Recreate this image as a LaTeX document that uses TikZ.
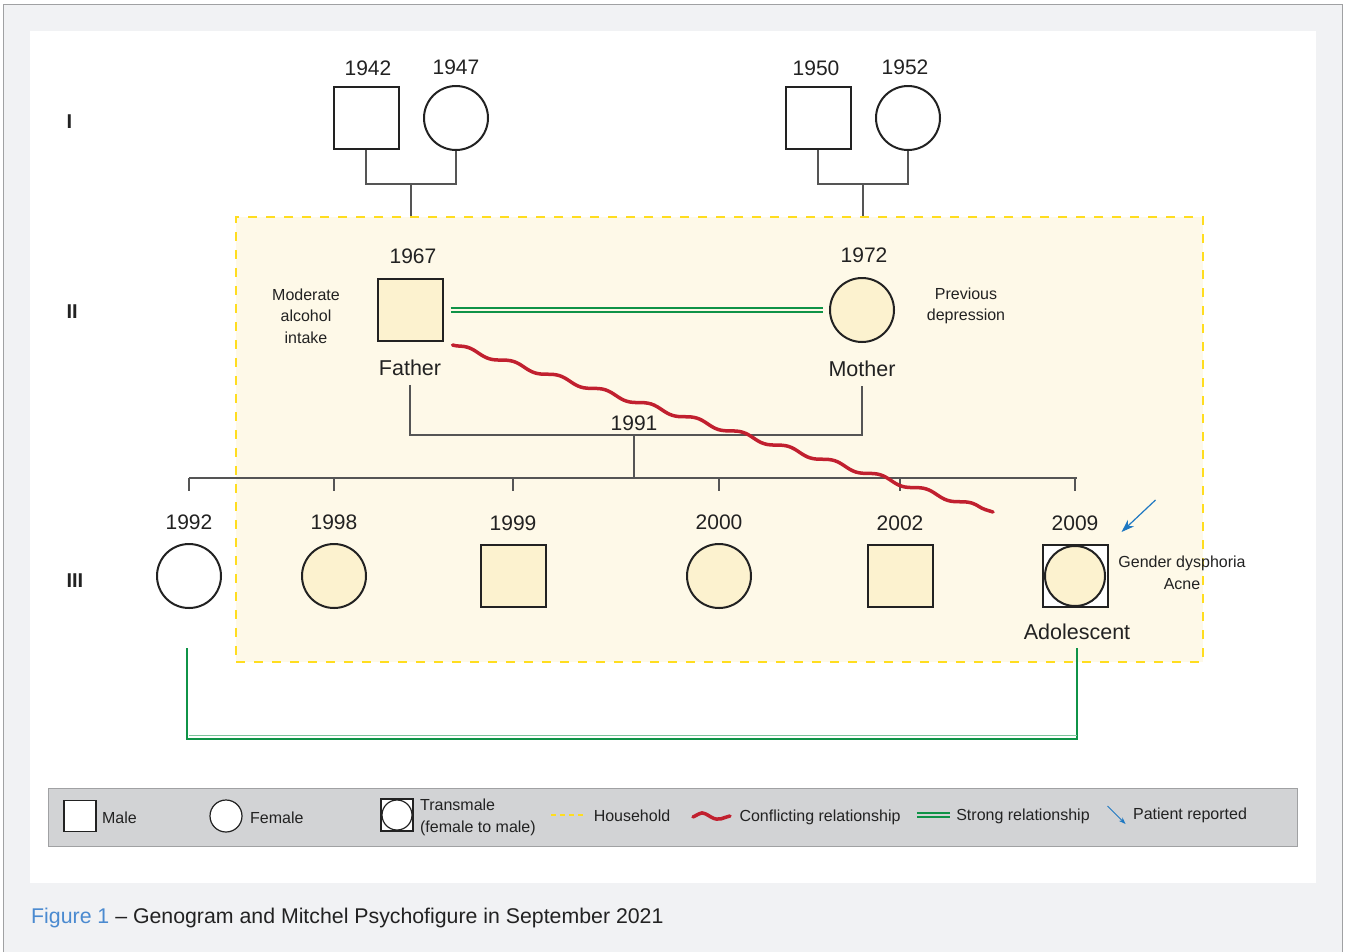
\documentclass[tikz,border=0pt]{standalone}
\usepackage{fontspec}
\setmainfont{Liberation Sans}
\usetikzlibrary{positioning, decorations.pathmorphing, arrows.meta}

\definecolor{panelgray}{HTML}{F1F2F4}
\definecolor{framegray}{HTML}{A0A1A3}
\definecolor{legendgray}{HTML}{D2D3D5}
\definecolor{homefill}{HTML}{FEF9E8}
\definecolor{homeline}{HTML}{FFDD1F}
\definecolor{personfill}{HTML}{FCF2CF}
\definecolor{strongGreen}{HTML}{0F9347}
\definecolor{conflictRed}{HTML}{C1202F}
\definecolor{patientBlue}{HTML}{1E78C2}
\definecolor{captionBlue}{HTML}{4A8AD0}
\definecolor{inkgray}{HTML}{222222}
\definecolor{linegray}{HTML}{555555}

\tikzstyle{male} = [rectangle, minimum width=65pt, minimum height=62pt, inner sep=0pt, draw=inkgray, line width=2pt, fill=white]
\tikzstyle{female} = [circle, minimum size=64pt, inner sep=0pt, draw=inkgray, line width=2pt, fill=white]
\tikzstyle{member} = [fill=personfill]
\tikzstyle{year} = [font=\fontsize{21}{25}\selectfont, text=inkgray, text height=15pt, text depth=0pt]
\tikzstyle{role} = [font=\fontsize{21.5}{26}\selectfont, text=inkgray]
\tikzstyle{note} = [font=\fontsize{16}{21.5}\selectfont, text=inkgray, align=center]
\tikzstyle{generation} = [font=\fontsize{20}{24}\selectfont\bfseries, text=inkgray, anchor=west]
\tikzstyle{keytext} = [font=\fontsize{16}{22}\selectfont, text=inkgray, align=left]
\tikzstyle{household} = [rectangle, draw=homeline, fill=homefill, line width=2.5pt, dash pattern=on 9pt off 9pt]
\tikzstyle{line} = [line width=1.2pt, draw=linegray]
\tikzstyle{strong} = [draw=strongGreen, line width=1.3pt, double=homefill, double distance=2.7pt]
\tikzstyle{bond} = [draw=strongGreen, line width=2.5pt]
\tikzstyle{bondthin} = [draw=strongGreen!55, line width=1pt]
\tikzstyle{conflict} = [draw=conflictRed, line width=3.5pt, line cap=round, decorate, decoration={snake, amplitude=2.3pt, segment length=48pt}]
\tikzstyle{arrow} = [draw=patientBlue, line width=1.2pt, -{Stealth[length=13pt, width=9pt]}]

\begin{document}
\begin{tikzpicture}[x=1pt, y=-1pt]

    \useasboundingbox (0,0) rectangle (1346,951);
    \fill[white] (0,0) rectangle (1346,951);
    \draw[framegray, fill=panelgray, line width=1pt] (3.5,4.5) rectangle (1342.5,990);
    \fill[white] (30,31) rectangle (1316,883);

    \node (home) [household, minimum width=967pt, minimum height=445pt] at (719.5,439.5) {};

    % generations
    \node (genI) [generation] at (63,122) {I};
    \node (genII) [generation] at (63,312) {II};
    \node (genIII) [generation] at (63,581) {III};

    % grandparents
    \node (gpaF) [male] at (366,118) {};
    \node (gmaF) [female] at (456,118) {};
    \node (gpaM) [male] at (818,118) {};
    \node (gmaM) [female] at (908,118) {};
    \node (y1942) [year, above=7pt of gpaF, xshift=2pt] {1942};
    \node (y1947) [year, above=7pt of gmaF] {1947};
    \node (y1950) [year, above=7pt of gpaM, xshift=-2pt] {1950};
    \node (y1952) [year, above=7pt of gmaM, xshift=-3pt] {1952};

    \coordinate (wedF) at (411,184);
    \coordinate (wedM) at (863,184);
    \draw[line] (gpaF.south) |- (wedF) -| (gmaF.south);
    \draw[line] (gpaM.south) |- (wedM) -| (gmaM.south);
    \draw[line] (wedF) -- (wedF |- home.north);
    \draw[line] (wedM) -- (wedM |- home.north);

    % parents
    \node (father) [male, member] at (410,310) {};
    \node (mother) [female, member] at (862,310) {};
    \node (y1967) [year, above=11pt of father, xshift=3pt] {1967};
    \node (y1972) [year, above=11pt of mother, xshift=2pt] {1972};
    \node (lFather) [role, below=14pt of father] {Father};
    \node (lMother) [role, below=14pt of mother] {Mother};
    \node (alcohol) [note] at (306,316) {Moderate\\alcohol\\intake};
    \node (depression) [note] at (966,306) {Previous\\depression};

    \draw[strong] ([xshift=7pt]father.east) -- ([xshift=-6pt]mother.west);

    \coordinate (wed) at (634,435);
    \coordinate (sibs) at (634,478);
    \draw[line] ([yshift=-6pt]lFather.south) |- (wed) -| ([yshift=-6pt]lMother.south);
    \node (y1991) [year, above=1pt of wed] {1991};
    \draw[line] (wed) -- (sibs);

    % children
    \node (c1992) [female] at (189,576) {};
    \node (c1998) [female, member] at (334,576) {};
    \node (c1999) [male, member] at (513,576) {};
    \node (c2000) [female, member] at (719,576) {};
    \node (c2002) [male, member] at (900,576) {};
    \node (c2009) [male] at (1075,576) {};
    \node (c2009in) [female, member, minimum size=60pt] at (c2009) {};

    \draw[line] (c1992 |- sibs) -- ([xshift=2pt]c2009 |- sibs);
    \foreach \kid/\yr in {c1992/1992, c1998/1998, c1999/1999, c2000/2000, c2002/2002, c2009/2009} {
        \draw[line] (\kid |- sibs) -- ++(0,13);
        \node (y\kid) [year, above=10pt of \kid] {\yr};
    }

    \node (lAdol) [role, below=12pt of c2009, xshift=2pt] {Adolescent};
    \node (dysphoria) [note] at (1182,573) {Gender dysphoria\\Acne};
    \draw[arrow] ([shift={(47,-44)}]c2009.north east) -- ([shift={(13,-12)}]c2009.north east);

    \coordinate (conflictEnd) at (993,512);
    \draw[conflict] ([shift={(9,3)}]father.south east) -- (conflictEnd);

    \coordinate (bondBase) at (630,739);
    \coordinate (bondInner) at (630,735);
    \draw[bond] ([shift={(-2,39)}]c1992.south) |- (bondBase) -| ([yshift=-5pt]lAdol.south);
    \draw[bondthin] (c1992 |- bondInner) -- (lAdol |- bondInner);

    % legend
    \node (legend) [rectangle, fill=legendgray, draw=framegray, line width=1pt, minimum width=1249pt, minimum height=58pt] at (672.5,817) {};
    \node (kMale) [male, minimum width=32pt, minimum height=31pt, line width=1.2pt] at (80,816) {};
    \node (tMale) [keytext, right=2pt of kMale, yshift=-2pt] {Male};
    \node (kFemale) [female, minimum size=32pt, line width=1.2pt] at (226,816) {};
    \node (tFemale) [keytext, right=4pt of kFemale, yshift=-2pt] {Female};
    \node (kTrans) [male, minimum width=32pt, minimum height=32pt, line width=1.2pt] at (397,815) {};
    \node (kTransIn) [female, minimum size=30pt, line width=1.2pt] at (kTrans) {};
    \node (tTrans) [keytext, right=3pt of kTrans, yshift=-2pt] {Transmale\\(female to male)};
    \node (tHome) [keytext] at (632,816) {Household};
    \draw[homeline, line width=1.8pt, dash pattern=on 5pt off 4pt] ([xshift=-39pt,yshift=1pt]tHome.west) -- ([xshift=-5pt,yshift=1pt]tHome.west);
    \node (tConflict) [keytext] at (820,817) {Conflicting relationship};
    \draw[conflictRed, line width=3.5pt, line cap=round] ([xshift=-43pt]tConflict.west) .. controls +(10,-5) and +(-10,-6) .. ([xshift=-25pt]tConflict.west) .. controls +(8,5) and +(-6,1) .. ([xshift=-6pt,yshift=1pt]tConflict.west);
    \node (tStrong) [keytext] at (1023,816) {Strong relationship};
    \draw[strong, double=legendgray] ([xshift=-36pt,yshift=1pt]tStrong.west) -- ([xshift=-3pt,yshift=1pt]tStrong.west);
    \node (tPatient) [keytext] at (1190,815) {Patient reported};
    \draw[arrow, line width=0.9pt, -{Stealth[length=7pt, width=5pt]}] ([shift={(-22,-9)}]tPatient.west) -- ([shift={(-4,9)}]tPatient.west);

    % caption
    \node (caption) [anchor=west, font=\fontsize{21.3}{25}\selectfont, text=inkgray] at (27.7,918) {\textcolor{captionBlue}{Figure 1} – Genogram and Mitchel Psychofigure in September 2021};

\end{tikzpicture}
\end{document}
